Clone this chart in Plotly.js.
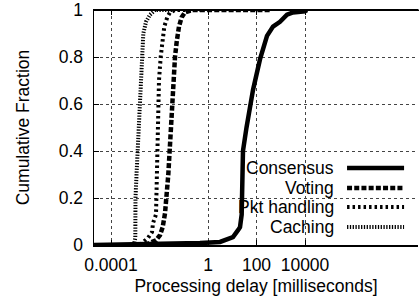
<!DOCTYPE html>
<html>
<head>
<meta charset="utf-8">
<script src="https://cdn.plot.ly/plotly-3.0.1.min.js"></script>
<style>
html,body{margin:0;padding:0;background:#fff;overflow:hidden;}
#chart{width:419px;height:303px;}
</style>
</head>
<body>
<div id="chart"></div>
<script>
// Delay values in milliseconds, cumulative fraction values
var consensusDelay = [0.00002, 0.00406, 0.468, 3.13, 10.7, 17.3, 20.9, 24.5, 25.9, 27.7, 38.7, 54.0, 71.8, 139, 271, 479, 931, 1811, 3199, 10000, 12078];
var consensusFrac  = [0, 0.003, 0.008, 0.013, 0.034, 0.063, 0.076, 0.13, 0.25, 0.4, 0.5, 0.6, 0.66, 0.79, 0.89, 0.93, 0.95, 0.98, 0.99, 0.995, 1.0];

var votingDelay = [0.0025, 0.00336, 0.00491, 0.00718, 0.0105, 0.01355, 0.01687, 0.01982, 0.02307, 0.02979, 0.03707, 0.04355, 0.05117, 0.06368, 0.08222, 0.1127, 0.2188, 360.6];
var votingFrac  = [0, 0.006, 0.013, 0.02, 0.042, 0.076, 0.135, 0.2, 0.3, 0.5, 0.7, 0.8, 0.865, 0.93, 0.97, 0.99, 1.0, 1.0];

var pktDelay = [0.00157, 0.00209, 0.00336, 0.00491, 0.0054, 0.00718, 0.00767, 0.00843, 0.00953, 0.0112, 0.01303, 0.01578, 0.021, 0.0271, 0.0436, 0.468];
var pktFrac  = [0, 0.013, 0.03, 0.055, 0.093, 0.13, 0.3, 0.5, 0.7, 0.8, 0.865, 0.93, 0.97, 0.99, 1.0, 1.0];

var cachingDelay = [0.000608, 0.000887, 0.001005, 0.001023, 0.001148, 0.001361, 0.001496, 0.001679, 0.001897, 0.002148, 0.002773, 0.004055, 0.006516, 0.04786];
var cachingFrac  = [0, 0.004, 0.03, 0.2, 0.316, 0.5, 0.6, 0.7, 0.8, 0.9, 0.95, 0.98, 1.0, 1.0];

var seriesNames = ["Consensus", "Voting", "Pkt handling", "Caching"];
var xTickVals = [0.0001, 1, 100, 10000];
var xTickText = ["0.0001", "1", "100", "10000"];
var yTickVals = [0, 0.2, 0.4, 0.6, 0.8, 1];
var yTickText = ["0", "0.2", "0.4", "0.6", "0.8", "1"];

var FONT = "Liberation Sans, Arial, Helvetica, sans-serif";
var styles = [
  {width: 4.5, dash: "solid"},
  {width: 4.5, dash: "5px,2.2px"},
  {width: 4, dash: "2.5px,3px"},
  {width: 4, dash: "1.3px,1.5px"}
];
var xs = [consensusDelay, votingDelay, pktDelay, cachingDelay];
var ys = [consensusFrac, votingFrac, pktFrac, cachingFrac];

var traces = [];
for (var i = 0; i < 4; i++) {
  traces.push({
    type: "scatter", mode: "lines", name: seriesNames[i],
    x: xs[i], y: ys[i],
    line: {color: "#000", width: styles[i].width, dash: styles[i].dash},
    showlegend: false, hoverinfo: "skip"
  });
}

// legend (gnuplot-style: text right-aligned, sample on the right)
var legRowY = [0.3277, 0.2426, 0.1617, 0.0766];
var shapes = [{
  type: "rect", xref: "paper", yref: "paper", layer: "between",
  x0: 0.364, x1: 0.988, y0: 0.034, y1: 0.385,
  fillcolor: "#fff", line: {width: 0}
}, {
  // top frame line
  type: "line", xref: "paper", yref: "paper", layer: "above",
  x0: 0, x1: 1.01, y0: 0.999, y1: 0.999,
  line: {color: "#000", width: 1.5}
}];
var annotations = [];
for (var j = 0; j < 4; j++) {
  shapes.push({
    type: "line", xref: "paper", yref: "paper", layer: "above",
    x0: 0.781, x1: 0.957, y0: legRowY[j], y1: legRowY[j],
    line: {color: "#000", width: styles[j].width, dash: styles[j].dash}
  });
  annotations.push({
    xref: "paper", yref: "paper", x: 0.747, y: legRowY[j],
    xanchor: "right", yanchor: "middle", showarrow: false,
    text: seriesNames[j], font: {family: FONT, size: 17.5, color: "#000"}
  });
}

var layout = {
  width: 419, height: 303,
  margin: {l: 94, r: 1, t: 10, b: 58},
  paper_bgcolor: "#fff", plot_bgcolor: "#fff",
  font: {family: FONT, size: 17.5, color: "#000"},
  showlegend: false,
  xaxis: {
    type: "log", range: [-4.701, 8.66],
    tickvals: xTickVals, ticktext: xTickText,
    ticks: "inside", ticklen: 5, tickwidth: 1, tickcolor: "#000",
    showline: true, linecolor: "#000", linewidth: 1.5, mirror: "all",
    showgrid: true, gridcolor: "#444", griddash: "dot", gridwidth: 1,
    zeroline: false, ticklabelstandoff: 3, ticklabeloverflow: "allow",
    title: {text: "Processing delay [milliseconds]", font: {family: FONT, size: 17.5}, standoff: 6}
  },
  yaxis: {
    range: [0, 1.0003],
    tickvals: yTickVals, ticktext: yTickText,
    ticks: "inside", ticklen: 5, tickwidth: 1, tickcolor: "#000",
    showline: true, linecolor: "#000", linewidth: 1.5, mirror: false,
    showgrid: true, gridcolor: "#444", griddash: "dot", gridwidth: 1,
    zeroline: false, ticklabelstandoff: 6, ticklabeloverflow: "allow",
    title: {text: "Cumulative Fraction", font: {family: FONT, size: 17.5}, standoff: 24}
  },
  shapes: shapes,
  annotations: annotations
};

Plotly.newPlot("chart", traces, layout, {staticPlot: true, displayModeBar: false});
</script>
</body>
</html>
